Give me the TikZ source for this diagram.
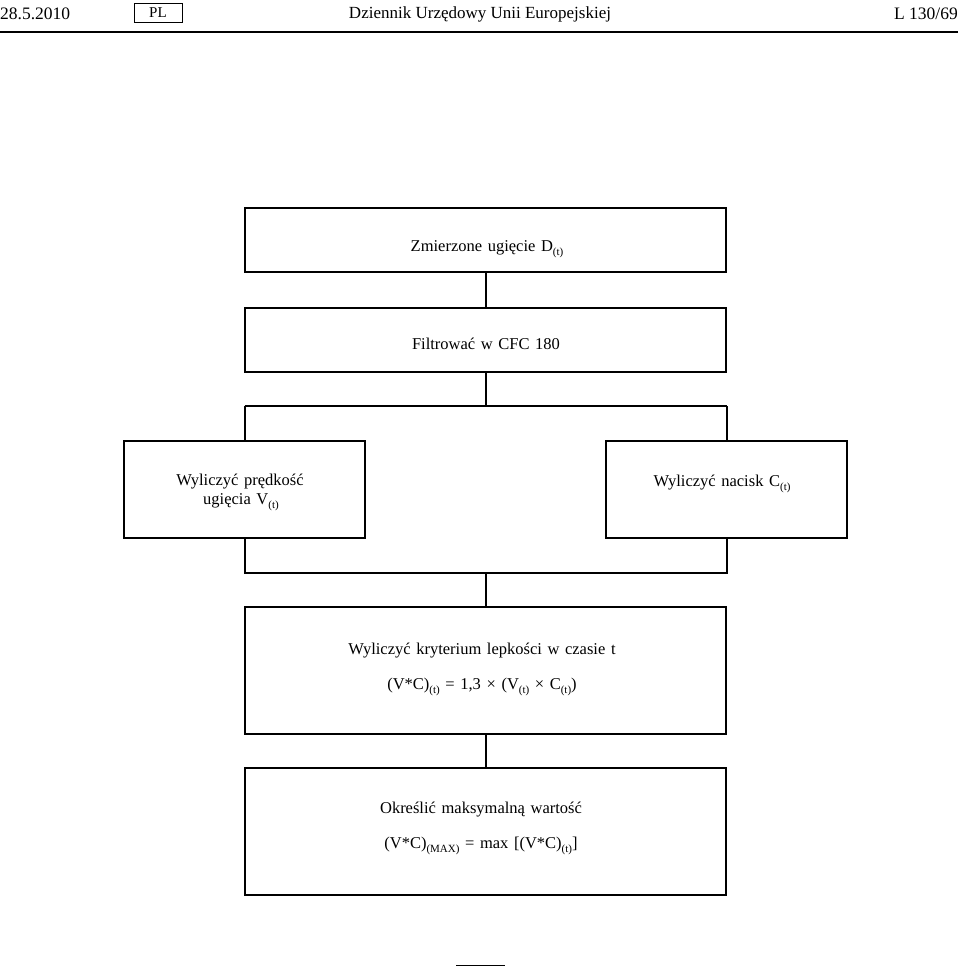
\documentclass[tikz,border=0pt]{standalone}
\usepackage{fontspec}
\setmainfont{Liberation Serif}
\newcommand{\boxfont}{\fontsize{16.5}{30}\selectfont\spaceskip=0.34em plus 0.1em\relax}
\newcommand{\sbt}[1]{\raisebox{-0.45ex}{\fontsize{11}{11}\selectfont #1}}
\begin{document}
\begin{tikzpicture}[x=1pt,y=-1pt,
  box/.style={draw, line width=2pt, inner sep=0pt},
  txt/.style={inner sep=0pt, align=center, font=\boxfont},
  conn/.style={line width=2pt},
  head/.style={inner sep=0pt, font=\fontsize{17.5}{20}\selectfont}]
\useasboundingbox (0,0) rectangle (960,967);
% header
\node[head, anchor=west] (date) at (0,14) {28.5.2010};
\node[draw, line width=1pt, minimum width=48pt, minimum height=19pt, inner sep=0pt, font=\fontsize{15}{18}\selectfont] (pl) at (158,12.5) {PL};
\node[head, font=\fontsize{17}{20}\selectfont] (title) at (480,14) {Dziennik Urzędowy Unii Europejskiej};
\node[head, anchor=east] (page) at (958,14) {L 130/69};
\coordinate (ruleL) at (0,32);
\coordinate (ruleR) at (958,32);
\draw[line width=1.8pt] (ruleL) -- (ruleR);
% boxes
\node[box, minimum width=481pt, minimum height=64pt] (a) at (485.5,240) {};
\node[box, minimum width=481pt, minimum height=64pt] (b) at (485.5,340) {};
\node[box, minimum width=241pt, minimum height=97pt] (l) at (244.5,489.5) {};
\node[box, minimum width=241pt, minimum height=97pt] (r) at (726.5,489.5) {};
\node[box, minimum width=481pt, minimum height=127pt] (d) at (485.5,670.5) {};
\node[box, minimum width=481pt, minimum height=127pt] (e) at (485.5,831.5) {};
% texts
\node[txt] (ta) at (487,249) {Zmierzone ugięcie D\sbt{(t)}};
\node[txt] (tb) at (486,344) {Filtrować w CFC 180};
\node[txt] (tl1) at (240,482) {Wyliczyć prędkość};
\node[txt] (tl2) at (241,502) {ugięcia V\sbt{(t)}};
\node[txt] (tr) at (722,484) {Wyliczyć nacisk C\sbt{(t)}};
\node[txt] (td1) at (482,651) {Wyliczyć kryterium lepkości w czasie t};
\node[txt] (td2) at (482,687) {(V*C)\sbt{(t)} = 1,3 × (V\sbt{(t)} × C\sbt{(t)})};
\node[txt] (te1) at (481,810) {Określić maksymalną wartość};
\node[txt] (te2) at (481,846) {(V*C)\sbt{(MAX)} = max [(V*C)\sbt{(t)}]};
% connectors
\coordinate (sp) at (485.5,406);
\coordinate (spL) at (244.5,406);
\coordinate (spR) at (726.5,406);
\coordinate (mg) at (485.5,572.5);
\coordinate (mgL) at (244.5,572.5);
\coordinate (mgR) at (726.5,572.5);
\draw[conn] (a.south) -- (b.north);
\draw[conn] (b.south) -- (sp);
\draw[conn] (spL) -- (spR);
\draw[conn] (spL) -- (l.north);
\draw[conn] (spR) -- (r.north);
\draw[conn] (l.south) -- (mgL) -- (mgR) -- (r.south);
\draw[conn] (mg) -- (d.north);
\draw[conn] (d.south) -- (e.north);
% footer
\coordinate (fL) at (456,965);
\coordinate (fR) at (505,965);
\draw[line width=1pt] (fL) -- (fR);
\end{tikzpicture}
\end{document}
